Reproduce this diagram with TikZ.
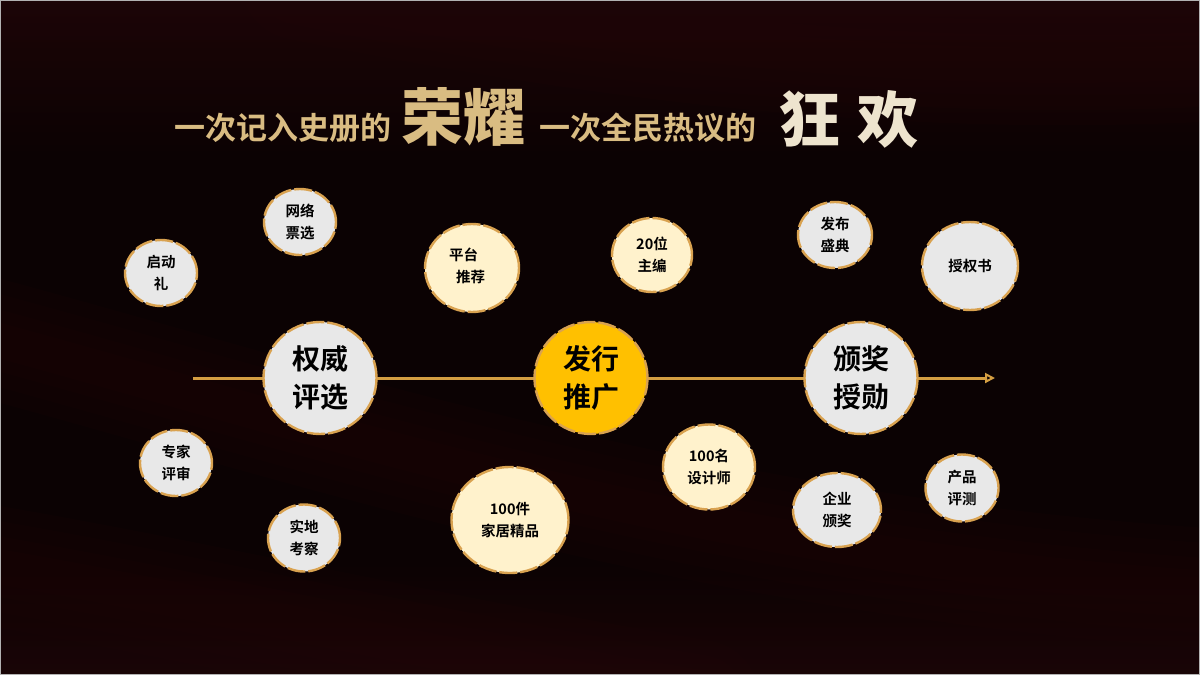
\documentclass[tikz,border=0pt]{standalone}
\usepackage{fontspec}
\newfontfamily\cjk{Noto Sans CJK SC}
\newfontfamily\cjkbold{Noto Sans CJK SC Bold}
\newfontfamily\cjkblack{Noto Sans CJK SC Black}
\usetikzlibrary{shapes.geometric,arrows.meta,fadings}
\definecolor{bgdark}{HTML}{0B0203}
\definecolor{bgred}{HTML}{240709}
\definecolor{goldline}{HTML}{D49E42}
\definecolor{goldedge}{HTML}{D9A250}
\definecolor{greyfill}{HTML}{E8E8E8}
\definecolor{creamfill}{HTML}{FFF2CC}
\definecolor{yellowfill}{HTML}{FFC000}
\definecolor{titlegold}{HTML}{D9BC82}
\definecolor{titlelight}{HTML}{EEE4CE}
\tikzset{
  bubble/.style={ellipse, draw=goldedge, line width=2.4pt, dash pattern=on 18pt off 3pt,
    inner sep=0pt, align=center, font=\cjkbold\fontsize{14.5}{22.5}\selectfont, text=black},
  bigbubble/.style={bubble, font=\cjkbold\fontsize{28}{38}\selectfont},
  grey/.style={fill=greyfill},
  cream/.style={fill=creamfill},
  yellow/.style={fill=yellowfill},
  band/.style={line cap=round, draw=bgred},
  titlefont/.style={inner sep=0pt, anchor=base west},
}
\begin{document}
\begin{tikzpicture}[x=1pt,y=-1pt]
\useasboundingbox (0,0) rectangle (1200,675);
% background
\fill[bgdark] (0,0) rectangle (1200,675);
\shade[top color=bgred, bottom color=bgdark, opacity=0.7] (0,0) rectangle (1200,160);
\shade[top color=bgdark, bottom color=bgred, opacity=0.6] (0,560) rectangle (1200,675);
\begin{scope}[opacity=0.12]
  \foreach \w in {120,90,60,35} {
    \draw[band, line width=\w pt] (-40,330) .. controls (300,420) and (700,560) .. (1240,590);
    \draw[band, line width=\w pt] (300,-20) .. controls (600,40) and (900,80) .. (1240,60);
    \draw[band, line width=\w pt] (-40,560) .. controls (200,600) and (400,650) .. (700,700);
  }
\end{scope}
\draw[gray!60, line width=1pt] (0.5,0.5) rectangle (1199.5,674.5);

% title
\node[titlefont, text=titlegold, font=\cjkbold\fontsize{31}{31}\selectfont] (t1) at (174,139) {一次记入史册的};
\node[titlefont, text=titlegold, font=\cjkblack\fontsize{62}{62}\selectfont] (t2) at (401,140) {荣耀};
\node[titlefont, text=titlegold, font=\cjkbold\fontsize{31}{31}\selectfont] (t3) at (539,139) {一次全民热议的};
\node[titlefont, text=titlelight, font=\cjkblack\fontsize{61}{61}\selectfont] (t4) at (779,142) {狂\hspace{17pt}欢};

% timeline
\coordinate (lstart) at (193,378);
\coordinate (lend) at (995,378);
\draw[goldline, line width=3pt, -{Triangle[open, length=10pt, width=10pt, line width=2pt]}] (lstart) -- (lend);

% main bubbles
\node[bigbubble, grey, minimum width=113pt, minimum height=112pt] (quanwei) at (320,378) {权威\\评选};
\node[bigbubble, yellow, minimum width=113pt, minimum height=112pt] (faxing) at (591,378) {发行\\推广};
\node[bigbubble, grey, minimum width=113pt, minimum height=112pt] (banjiang) at (861,378) {颁奖\\授勋};

% small bubbles
\node[bubble, grey, minimum width=72pt, minimum height=66pt] (qidong) at (161,273) {启动\\礼};
\node[bubble, grey, minimum width=72pt, minimum height=66pt] (wangluo) at (300,222) {网络\\票选};
\node[bubble, cream, minimum width=94pt, minimum height=88pt] (pingtai) at (472,268) {};
\node[font=\cjkbold\fontsize{14.5}{22}\selectfont, anchor=west, inner sep=0pt] (pingtaia) at (449,255) {平台};
\node[font=\cjkbold\fontsize{14.5}{22}\selectfont, anchor=west, inner sep=0pt] (pingtaib) at (456,277) {推荐};
\node[bubble, cream, minimum width=80pt, minimum height=74pt] (zhubian) at (652,255) {20位\\主编};
\node[bubble, grey, minimum width=74pt, minimum height=66pt] (fabu) at (835,235) {发布\\盛典};
\node[bubble, grey, minimum width=96pt, minimum height=88pt] (shouquan) at (970,266) {授权书};
\node[bubble, grey, minimum width=72pt, minimum height=66pt] (zhuanjia) at (176,463) {专家\\评审};
\node[bubble, grey, minimum width=72pt, minimum height=67pt] (shidi) at (304,538) {实地\\考察};
\node[bubble, cream, minimum width=117pt, minimum height=106pt] (jiaju) at (510,520) {100件\\家居精品};
\node[bubble, cream, minimum width=92pt, minimum height=85pt] (sheji) at (709,467) {100名\\设计师};
\node[bubble, grey, minimum width=88pt, minimum height=74pt] (qiye) at (837,510) {企业\\颁奖};
\node[bubble, grey, minimum width=73pt, minimum height=67pt] (chanpin) at (962,488) {产品\\评测};
\end{tikzpicture}
\end{document}
